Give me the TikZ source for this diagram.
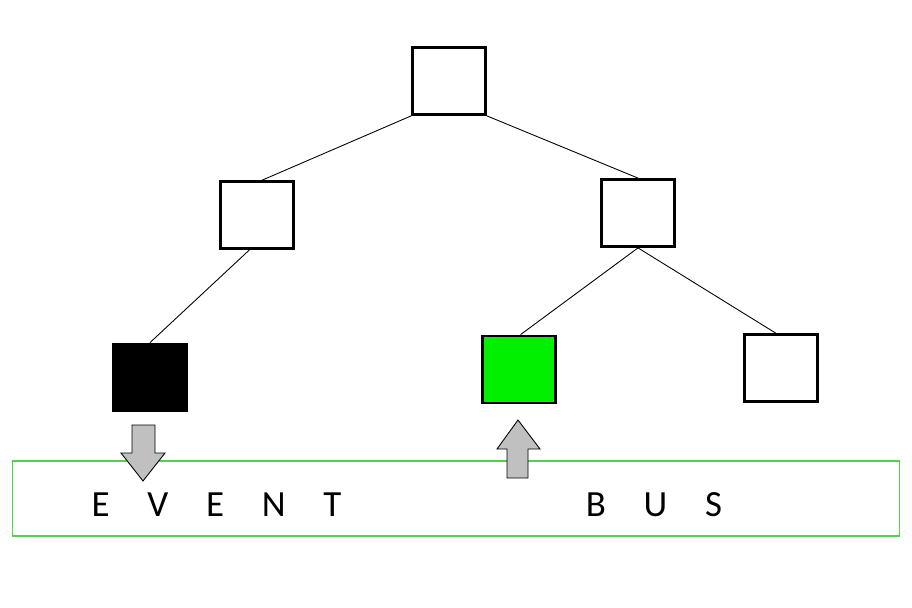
\documentclass[tikz,border=0pt]{standalone}
\usepackage{fontspec}
\setmainfont{Carlito}
\usepackage{tikz}
\usetikzlibrary{positioning, calc}

\definecolor{busgreen}{RGB}{80,210,80}
\definecolor{leafgreen}{RGB}{0,240,0}
\definecolor{arrowgray}{RGB}{192,192,192}

\begin{document}
\begin{tikzpicture}[
        x=0.02cm, y=-0.02cm,
        box/.style={rectangle, draw, line width=1.6pt, minimum width=1.46cm, minimum height=1.34cm, inner sep=0pt},
        edge/.style={line width=0.5pt},
        busarrow/.style={draw, fill=arrowgray, line width=0.5pt, line join=miter},
        letters/.style={font=\fontsize{21}{21}\selectfont, inner sep=0pt}
    ]
        \useasboundingbox[fill=white] (0,0) rectangle (912,608);

        % tree nodes
        \node[box] (root) at (449,81) {};
        \node[box] (left) at (257,215) {};
        \node[box] (right) at (638,213) {};
        \node[box, fill=black] (sender) at (150,377.5) {};
        \node[box, fill=leafgreen] (receiver) at (519,369.5) {};
        \node[box] (other) at (781,368) {};

        % tree edges
        \draw[edge] (root.south west) -- ($(left.north west)!0.57!(left.north east)$);
        \draw[edge] (root.south east) -- (right.north);
        \draw[edge] ($(left.south west)!0.4!(left.south east)$) -- (sender.north);
        \draw[edge] (right.south) -- ($(receiver.north west)!0.52!(receiver.north east)$);
        \draw[edge] (right.south) -- ($(other.north west)!0.43!(other.north east)$);

        % event bus
        \node[draw=busgreen, line width=0.6pt, minimum width=17.76cm, minimum height=1.5cm, inner sep=0pt] (bus) at (456,498.5) {};
        \node[letters] (event) at (216.5,505) {\spaceskip=21.5pt E V E N T};
        \node[letters] (word) at (654,505) {\spaceskip=21.5pt B U S};

        % publish / subscribe arrows
        \draw[busarrow] (132,425) -- (155,425) -- (155,453) -- (165,453) -- (143,481)
            -- (121,453) -- (132,453) -- cycle;
        \draw[busarrow] (507,478) -- (528,478) -- (528,449) -- (540,449) -- (518,420)
            -- (497,449) -- (507,449) -- cycle;

    \end{tikzpicture}
\end{document}
